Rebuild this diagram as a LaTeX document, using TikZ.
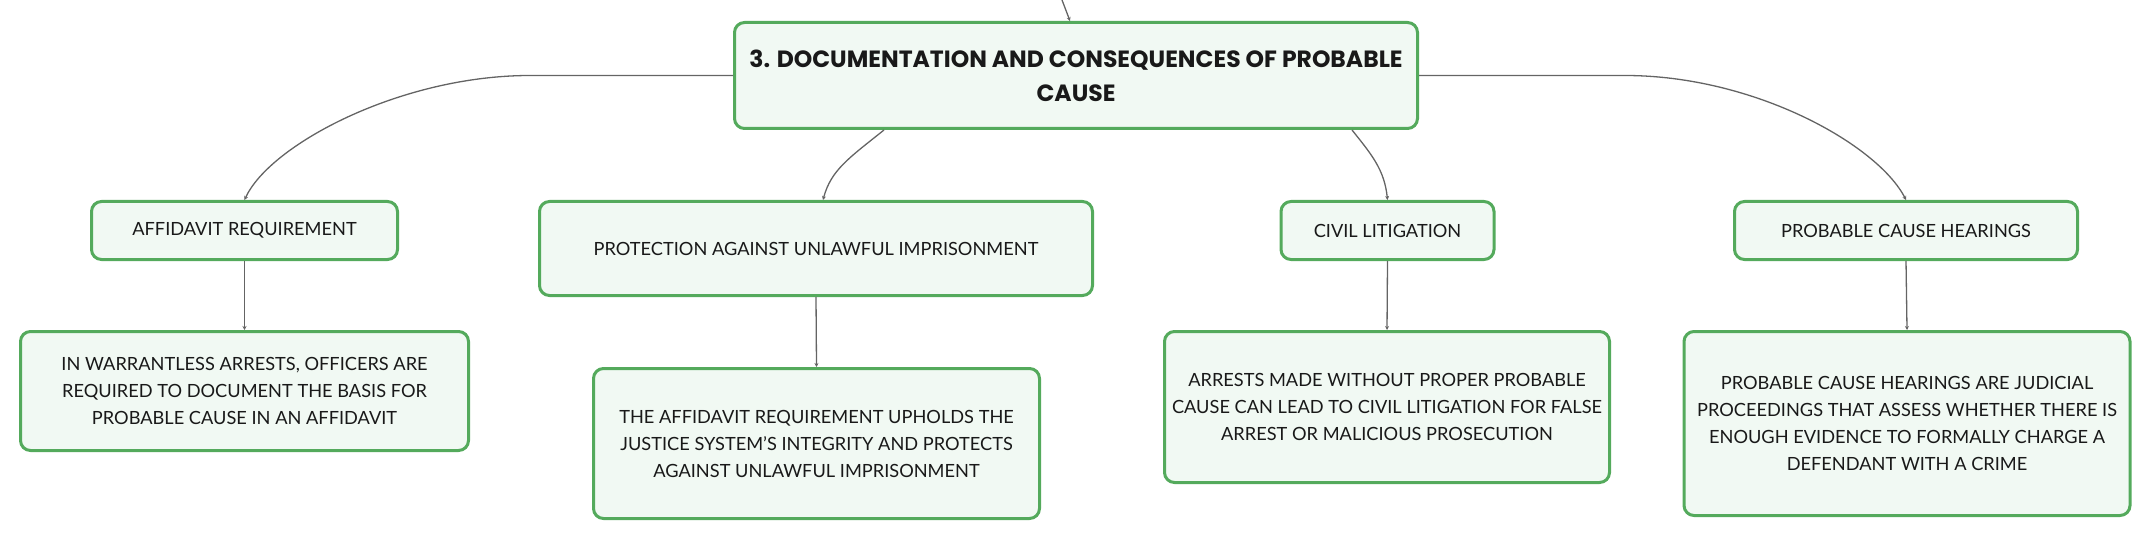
\documentclass[tikz,border=0pt]{standalone}
\usepackage{fontspec}
\setmainfont{Lato}
\newfontfamily\titlefont{Poppins}
\usetikzlibrary{arrows.meta}
\definecolor{mapgreen}{RGB}{84,170,92}
\definecolor{mapfill}{RGB}{241,249,243}
\definecolor{maplink}{RGB}{100,100,100}
\definecolor{maptext}{RGB}{25,25,25}

\begin{document}
\begin{tikzpicture}[x=1pt,y=-1pt,
    box/.style={draw=mapgreen,line width=3pt,fill=mapfill,rounded corners=10pt,
      align=center,text=maptext,inner sep=0pt,
      font=\fontsize{18.2}{27}\selectfont},
    rootbox/.style={box,font=\titlefont\bfseries\fontsize{23.5}{34}\selectfont},
    link/.style={draw=maplink,line width=1.3pt,-{Stealth[length=4pt,width=4pt]}}]
    \useasboundingbox (0,0) rectangle (2151,540);

    % Central topic
    \node[rootbox,minimum width=683pt,minimum height=106pt] (root) at (1076,75.5)
      {3. DOCUMENTATION AND CONSEQUENCES OF PROBABLE\\CAUSE};

    % First level topics
    \node[box,minimum width=306pt,minimum height=58pt] (aff) at (244.5,230.5)
      {AFFIDAVIT REQUIREMENT};
    \node[box,minimum width=553pt,minimum height=94pt] (prot) at (816,248.5)
      {PROTECTION AGAINST UNLAWFUL IMPRISONMENT};
    \node[box,minimum width=213pt,minimum height=58pt] (civil) at (1387.5,230.5)
      {CIVIL LITIGATION};
    \node[box,minimum width=343pt,minimum height=58pt] (hear) at (1906,230.5)
      {PROBABLE CAUSE HEARINGS};

    % Details
    \node[box,minimum width=448pt,minimum height=119pt] (b1) at (244.5,391)
      {IN WARRANTLESS ARRESTS, OFFICERS ARE\\REQUIRED TO DOCUMENT THE BASIS FOR\\PROBABLE CAUSE IN AN AFFIDAVIT};
    \node[box,minimum width=446pt,minimum height=150pt] (b2) at (816.5,443.5)
      {THE AFFIDAVIT REQUIREMENT UPHOLDS THE\\JUSTICE SYSTEM'S INTEGRITY AND PROTECTS\\AGAINST UNLAWFUL IMPRISONMENT};
    \node[box,minimum width=445pt,minimum height=151pt] (b3) at (1387,407)
      {ARRESTS MADE WITHOUT PROPER PROBABLE\\CAUSE CAN LEAD TO CIVIL LITIGATION FOR FALSE\\ARREST OR MALICIOUS PROSECUTION};
    \node[box,minimum width=446pt,minimum height=184pt] (b4) at (1907,423.5)
      {PROBABLE CAUSE HEARINGS ARE JUDICIAL\\PROCEEDINGS THAT ASSESS WHETHER THERE IS\\ENOUGH EVIDENCE TO FORMALLY CHARGE A\\DEFENDANT WITH A CRIME};

    % Links from the central topic
    \coordinate (above) at (1062,0);
    \draw[link] (above) -- ([xshift=-6pt]root.north);
    \draw[link] (root.west) -- ++(-203,0) .. controls +(-130,0) and +(25,-55) .. (aff.north);
    \draw[link] (root.east) -- ++(206,0) .. controls +(130,0) and +(-28,-55) .. (hear.north);
    \draw[link] ([xshift=-192pt]root.south) .. controls +(-35,28) and +(8,-30) .. ([xshift=7pt]prot.north);
    \draw[link] ([xshift=276pt]root.south) .. controls +(20,25) and +(-3,-30) .. (civil.north);

    % Links to the details
    \foreach \a/\b in {aff/b1,prot/b2,civil/b3,hear/b4}
      \draw[link] (\a.south) -- (\b.north);
\end{tikzpicture}
\end{document}
